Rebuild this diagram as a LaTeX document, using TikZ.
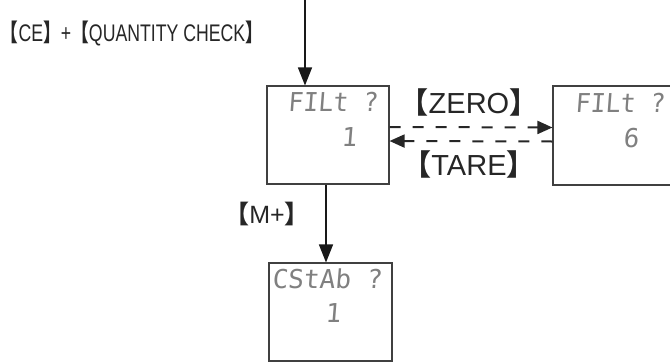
\documentclass[tikz,border=0pt]{standalone}
\usepackage{fontspec}
\usepackage{graphicx}
\setmainfont{Liberation Sans}
\newfontfamily\cjk{Noto Sans CJK SC}
\newfontfamily\segfont[FakeSlant=0.08]{DejaVu Sans Mono}
\usetikzlibrary{arrows.meta}
\newcommand{\lbr}{{\cjk\bfseries 【}}
\newcommand{\rbr}{{\cjk\bfseries 】}}
\tikzset{
  dispbox/.style={draw=black!75, line width=1.1pt, inner sep=0pt},
  segtext/.style={inner sep=0pt, text=black!50, font=\segfont\fontsize{26}{26}\selectfont},
  keylabel/.style={inner sep=0pt, text=black!85, font=\fontsize{29}{29}\selectfont},
  solidarrow/.style={line width=1.4pt, draw=black!90, -{Triangle[length=18pt,width=14pt]}},
  dasharrow/.style={line width=2pt, draw=black!85, dash pattern=on 11pt off 12pt, -{Triangle[length=15pt,width=13pt]}}
}
\begin{document}
\begin{tikzpicture}[x=1pt,y=-1pt]
\useasboundingbox (0,0) rectangle (670,362);
% display boxes
\node[dispbox, minimum width=122pt, minimum height=98pt] (b1) at (328,135) {};
\node[dispbox, minimum width=130pt, minimum height=99pt] (b2) at (618,135.5) {};
\node[dispbox, minimum width=123pt, minimum height=98pt] (b3) at (330.5,312) {};
% display texts
\node[segtext] (b1a) at (333,102) {\resizebox{90pt}{\height}{FILt ?}};
\node[segtext] (b1b) at (349,137) {1};
\node[segtext] (b2a) at (620,103) {\resizebox{90pt}{\height}{FILt ?}};
\node[segtext] (b2b) at (631,138) {6};
\node[segtext] (b3a) at (327,279) {\resizebox{110pt}{\height}{CStAb ?}};
\node[segtext] (b3b) at (333,313) {1};
% labels
\node[inner sep=0pt, text=black!85, font=\fontsize{24}{24}\selectfont] (lab) at (132,34) {\resizebox{262pt}{\height}{\lbr CE\rbr+\lbr QUANTITY CHECK\rbr}};
\node[keylabel] (zero) at (469,102) {\lbr ZERO\rbr};
\node[keylabel] (tare) at (469,164) {\lbr TARE\rbr};
\node[keylabel, font=\fontsize{25}{25}\selectfont] (mplus) at (267,214) {\lbr M+\rbr};
% connectors
\coordinate (start) at (305,0);
\draw[solidarrow] (start) -- (start |- b1.north);
\draw[solidarrow] ([xshift=-2pt]b1.south) -- ([xshift=-4.5pt]b3.north);
\draw[dasharrow] ([yshift=8pt]b1.east) -- ([yshift=8pt]b2.west);
\draw[dasharrow] ([yshift=-6pt]b2.west) -- ([yshift=-6pt]b1.east);
\end{tikzpicture}
\end{document}
